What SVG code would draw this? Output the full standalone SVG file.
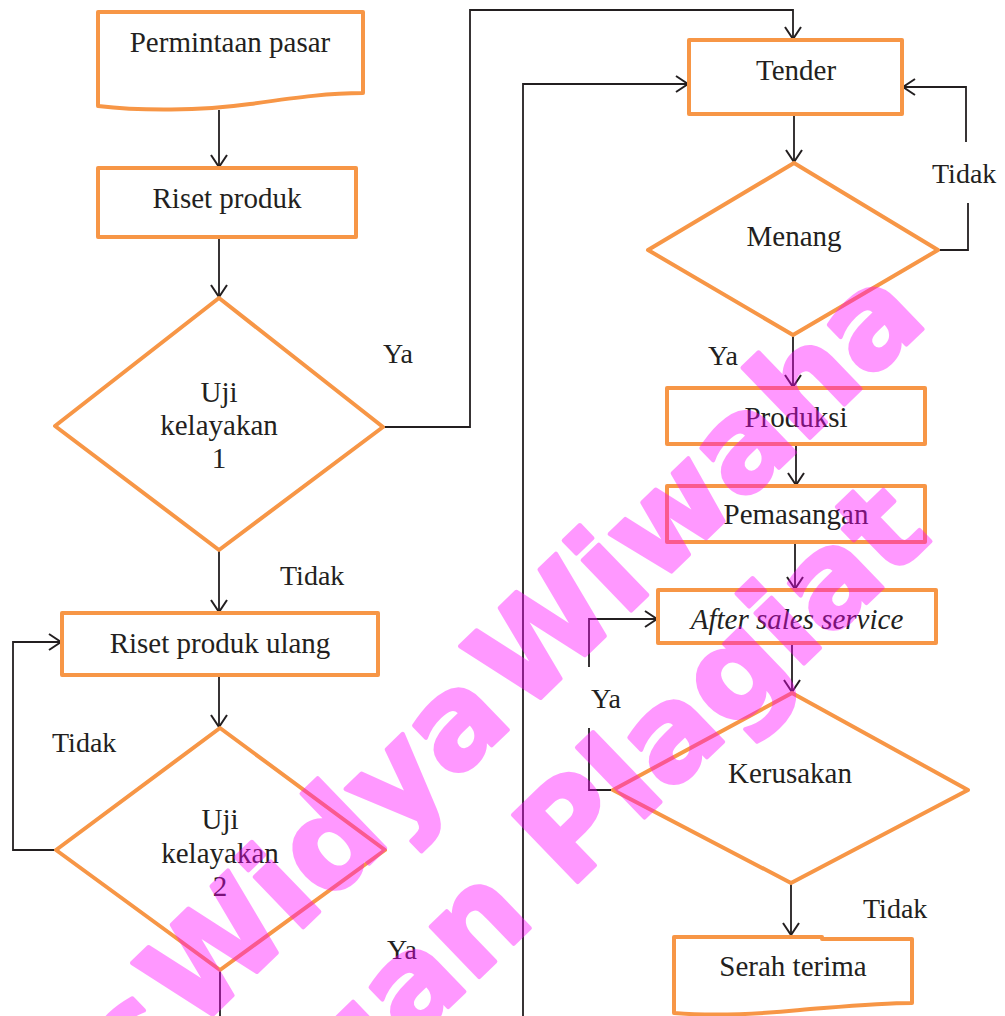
<svg xmlns="http://www.w3.org/2000/svg" width="1005" height="1016" viewBox="0 0 1005 1016">
<style>
.box{fill:#fff;stroke:#F79646;stroke-width:4;stroke-linejoin:round}
.ln{fill:none;stroke:#231F20;stroke-width:1.8}
.t{font-family:"Liberation Serif","Times New Roman",serif;font-size:29px;fill:#231F20;text-anchor:middle}
.lb{font-family:"Liberation Serif","Times New Roman",serif;font-size:28px;fill:#231F20}
.it{font-style:italic}
.wm{font-family:"DejaVu Sans",sans-serif;font-weight:bold;font-size:128px;fill:#ff00ff;stroke:#ff00ff;stroke-width:4;stroke-linejoin:round;text-anchor:end}
</style>
<defs>
<marker id="arr" viewBox="0 0 14 18" refX="13" refY="9" markerWidth="14" markerHeight="18" markerUnits="userSpaceOnUse" orient="auto">
<path d="M1,1 L13,9 L1,17" fill="none" stroke="#231F20" stroke-width="2"/>
</marker>
</defs>
<rect width="1005" height="1016" fill="#fff"/>

<g id="connectors">
<path class="ln" d="M219,110 V167" marker-end="url(#arr)"/>
<path class="ln" d="M219,237 V297" marker-end="url(#arr)"/>
<path class="ln" d="M383,427 H470 V10 H793 V39" marker-end="url(#arr)"/>
<path class="ln" d="M219,550 V612" marker-end="url(#arr)"/>
<path class="ln" d="M219,675 V727" marker-end="url(#arr)"/>
<path class="ln" d="M56,850 H13 V642 H61" marker-end="url(#arr)"/>
<path class="ln" d="M220,970 V1016"/>
<path class="ln" d="M523,1016 V84 H688" marker-end="url(#arr)"/>
<path class="ln" d="M794,115 V162" marker-end="url(#arr)"/>
<path class="ln" d="M938,250 H968 V203"/>
<path class="ln" d="M966,142 V87 H903" marker-end="url(#arr)"/>
<path class="ln" d="M793,335 V387" marker-end="url(#arr)"/>
<path class="ln" d="M796,444 V485" marker-end="url(#arr)"/>
<path class="ln" d="M795,542 V589" marker-end="url(#arr)"/>
<path class="ln" d="M792,643 V692" marker-end="url(#arr)"/>
<path class="ln" d="M615,790 H589 V728"/>
<path class="ln" d="M589,667 V619 H657" marker-end="url(#arr)"/>
<path class="ln" d="M791,883 V935" marker-end="url(#arr)"/>
</g>

<g id="permintaan-pasar">
<path class="box" d="M98,12 H363 V93 C330,93 300,97 250,104 C200,111 140,111 98,106 Z"/>
<text class="t" x="230" y="52">Permintaan pasar</text>
</g>
<g id="riset-produk">
<rect class="box" x="98" y="168" width="258" height="69"/>
<text class="t" x="227" y="208">Riset produk</text>
</g>
<g id="uji-kelayakan-1">
<path class="box" d="M219,298 L383,427 L219,550 L55,426 Z"/>
<text class="t" x="219" y="402">Uji</text>
<text class="t" x="219" y="435">kelayakan</text>
<text class="t" x="219" y="468">1</text>
</g>
<g id="riset-produk-ulang">
<rect class="box" x="62" y="613" width="316" height="62"/>
<text class="t" x="220" y="653">Riset produk ulang</text>
</g>
<g id="uji-kelayakan-2">
<path class="box" d="M220,728 L385,850 L220,970 L56,850 Z"/>
<text class="t" x="220" y="829">Uji</text>
<text class="t" x="220" y="863">kelayakan</text>
<text class="t" x="220" y="896">2</text>
</g>
<g id="tender">
<rect class="box" x="689" y="40" width="213" height="74"/>
<text class="t" x="796" y="80">Tender</text>
</g>
<g id="menang">
<path class="box" d="M794,163 L938,250 L793,335 L648,250 Z"/>
<text class="t" x="794" y="246">Menang</text>
</g>
<g id="produksi">
<rect class="box" x="667" y="388" width="258" height="56"/>
<text class="t" x="796" y="427">Produksi</text>
</g>
<g id="pemasangan">
<rect class="box" x="667" y="486" width="258" height="56"/>
<text class="t" x="796" y="524">Pemasangan</text>
</g>
<g id="after-sales-service">
<rect class="box" x="658" y="590" width="278" height="53"/>
<text class="t it" x="797" y="629">After sales service</text>
</g>
<g id="kerusakan">
<path class="box" d="M792,693 L968,790 L791,883 L613,790 Z"/>
<text class="t" x="790" y="783">Kerusakan</text>
</g>
<g id="serah-terima">
<path class="box" d="M674,937 H822 V939 H912 V1003 C880,1003 850,1006 800,1010 C760,1014 710,1016 674,1013 Z"/>
<text class="t" x="793" y="976">Serah terima</text>
</g>

<g id="labels">
<text class="lb" x="383" y="363">Ya</text>
<text class="lb" x="280" y="585">Tidak</text>
<text class="lb" x="52" y="752">Tidak</text>
<text class="lb" x="387" y="959">Ya</text>
<text class="lb" x="932" y="183">Tidak</text>
<text class="lb" x="708" y="365">Ya</text>
<text class="lb" x="591" y="708">Ya</text>
<text class="lb" x="863" y="918">Tidak</text>
</g>

<g id="watermark" opacity="0.4">
<text class="wm" transform="translate(930,322) rotate(-44)" word-spacing="-35">Universitas Widya Wiwaha</text>
<text class="wm" transform="translate(934,538) rotate(-44)">Jangan Plagiat</text>
</g>
</svg>
